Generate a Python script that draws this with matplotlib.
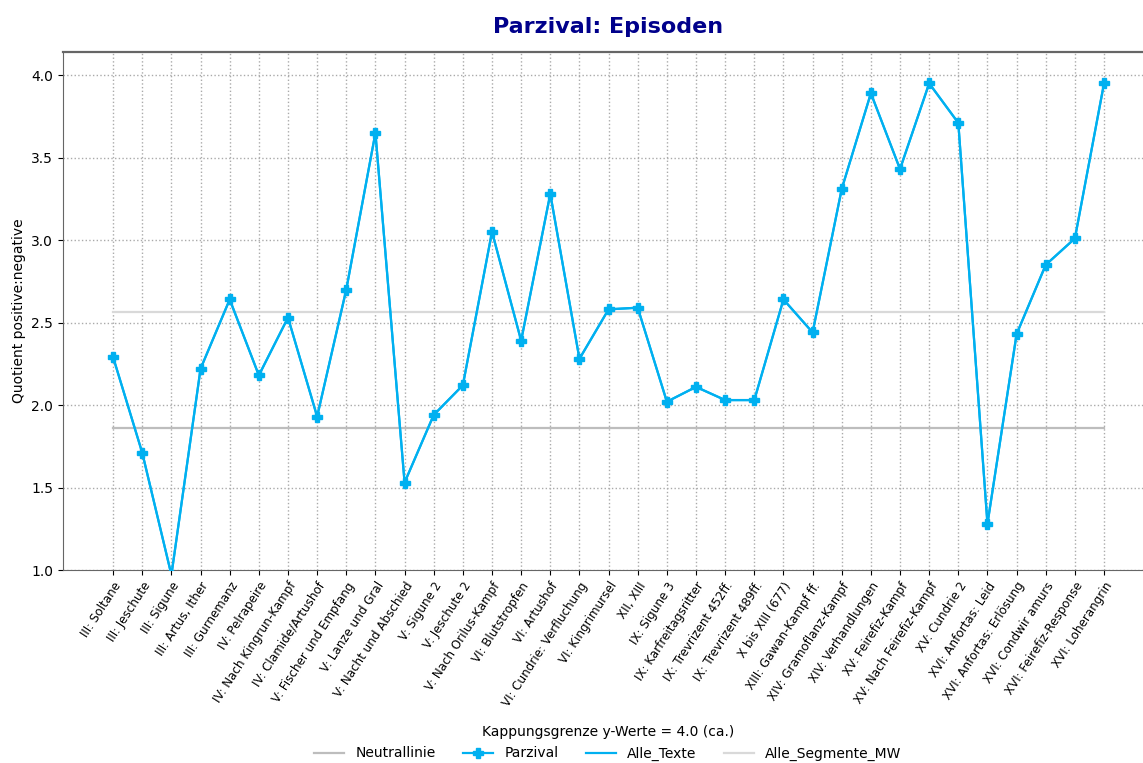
import matplotlib
matplotlib.use("Agg")
import matplotlib.pyplot as plt
import numpy as np

# Episoden (x-Achse)
episoden = [
    "III: Soltane", "III: Jeschute", "III: Sigune", "III: Artus, Ither",
    "III: Gurnemanz", "IV: Pelrapeire", "IV: Nach Kingrun-Kampf",
    "IV: Clamide/Artushof", "V: Fischer und Empfang", "V: Lanze und Gral",
    "V: Nacht und Abschied", "V: Sigune 2", "V: Jeschute 2",
    "V: Nach Orilus-Kampf", "VI: Blutstropfen", "VI: Artushof",
    "VI: Cundrie: Verfluchung", "VI: Kingrimursel", "XII, XIII",
    "IX: Sigune 3", "IX: Karfreitagsritter", "IX: Trevrizent 452ff.",
    "IX: Trevrizent 489ff.", "X bis XIII (677)", "XIII: Gawan-Kampf ff.",
    "XIV: Gramoflanz-Kampf", "XIV: Verhandlungen", "XV: Feirefiz-Kampf",
    "XV: Nach Feirefiz-Kampf", "XV: Cundrie 2", "XVI: Anfortas: Leid",
    "XVI: Anfortas: Erlösung", "XVI: Condwir amurs", "XVI: Feirefiz-Response",
    "XVI: Loherangrin",
]

# Quotient positive:negative
parzival = [
    2.29, 1.71, 0.97, 2.22, 2.64, 2.18, 2.53, 1.93, 2.70, 3.65,
    1.53, 1.94, 2.12, 3.05, 2.39, 3.28, 2.28, 2.58, 2.59, 2.02,
    2.11, 2.03, 2.03, 2.64, 2.44, 3.31, 3.89, 3.43, 3.95, 3.71,
    1.28, 2.43, 2.85, 3.01, 3.95,
]
alle_texte = parzival

neutral = 1.86
segmente_mw = 2.565

x = np.arange(len(episoden))

fig = plt.figure(figsize=(11.43, 7.63), dpi=100)
ax = fig.add_axes([63 / 1143, 193 / 763, 1090 / 1143, 518 / 763])

ax.plot(x, [neutral] * len(x), color="#bdbdbd", lw=1.6, label="Neutrallinie")
ax.plot(x, parzival, color="#00b0f0", lw=1.6, marker="P", markersize=7.5,
        label="Parzival", zorder=4)
ax.plot(x, alle_texte, color="#00b0f0", lw=1.6, label="Alle_Texte", zorder=3)
ax.plot(x, [segmente_mw] * len(x), color="#d9d9d9", lw=1.6,
        label="Alle_Segmente_MW")

ax.set_xlim(-1.72, 35.68)
ax.set_ylim(1.0, 4.14)
ax.set_xticks(x)
ax.set_xticklabels(episoden, rotation=57, ha="right", rotation_mode="anchor",
                   fontsize=8.6)
ax.tick_params(axis="y", labelsize=10)
ax.grid(True, linestyle=":", color="#aaaaaa", lw=1)
ax.set_axisbelow(True)
for s in ax.spines.values():
    s.set_color("#666666")
ax.spines["top"].set_linewidth(1.6)

ax.set_ylabel("Quotient positive:negative", fontsize=10)
ax.set_title("Parzival: Episoden", fontsize=16, fontweight="bold",
             color="#00008b", pad=14)

ax.legend(title="Kappungsgrenze y-Werte = 4.0 (ca.)", loc="upper center",
          bbox_to_anchor=(0.5, -0.276), ncol=4, frameon=False, fontsize=10,
          title_fontsize=10, handlelength=2.15, columnspacing=2.0)

fig.savefig("out.png", dpi=100)
